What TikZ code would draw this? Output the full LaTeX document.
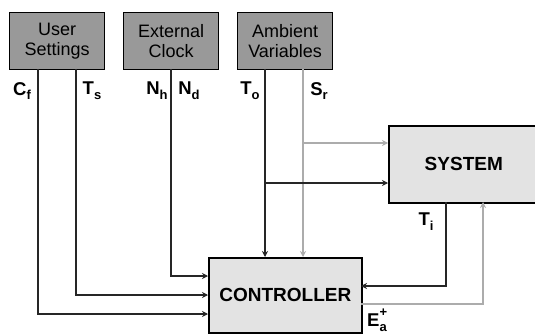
\documentclass[tikz,border=0pt]{standalone}
\usepackage{fontspec}
\setmainfont{Liberation Sans}
\usetikzlibrary{arrows.meta}
\newcommand{\sig}[2]{\textbf{#1\raisebox{-0.5ex}{\fontsize{13}{13}\selectfont #2}}}
\newcommand{\sigE}{\textbf{E\rlap{\raisebox{1.0ex}{\fontsize{13}{13}\selectfont +}}\raisebox{-0.5ex}{\fontsize{13}{13}\selectfont a}}}
\begin{document}
\begin{tikzpicture}[x=1pt,y=-1pt,
  src/.style={draw=black, line width=1.2pt, fill=gray!80, minimum width=95pt, minimum height=57pt,
    inner sep=0pt, align=center, font=\fontsize{18}{19.5}\selectfont, anchor=north west},
  blk/.style={draw=black, line width=1.6pt, fill=gray!22, inner sep=0pt, anchor=north west,
    font=\bfseries\fontsize{19}{22}\selectfont},
  bl/.style={line width=1.3pt, draw=black!85, -{Stealth[length=6pt,width=6pt]}},
  gl/.style={line width=1.3pt, draw=gray!65, -{Stealth[length=6pt,width=6pt]}},
  lab/.style={font=\fontsize{18.5}{18.5}\selectfont, inner sep=0pt}
]
\useasboundingbox (0,0) rectangle (535,334);
\fill[white] (0,0) rectangle (535,334);

% source boxes
\node[src] (us) at (9,12) {User\\Settings};
\node[src] (ec) at (123,12) {External\\Clock};
\node[src] (av) at (237,12) {Ambient\\Variables};

% main blocks
\node[blk, minimum width=153pt, minimum height=75pt] (ctrl) at (208,257) {CONTROLLER};
\node[blk, minimum width=150pt, minimum height=77pt] (sys) at (388,125) {SYSTEM};

% named coordinates
\coordinate (cft) at (38,69);   \coordinate (cfe) at (208,314);
\coordinate (tst) at (76,69);   \coordinate (tse) at (208,295);
\coordinate (nt)  at (171,69);  \coordinate (ne)  at (208,276);
\coordinate (tot) at (265,69);  \coordinate (toe) at (265,257);
\coordinate (tob) at (265,183); \coordinate (tos) at (388,183);
\coordinate (srt) at (303,69);  \coordinate (sre) at (303,257);
\coordinate (srb) at (303,143); \coordinate (srs) at (388,143);
\coordinate (tit) at (446,202); \coordinate (tic) at (446,286); \coordinate (tie) at (361,286);
\coordinate (eat) at (361,304); \coordinate (eac) at (483,304); \coordinate (eae) at (483,202);

% connectors
\draw[bl] (cft) |- (cfe);
\draw[bl] (tst) |- (tse);
\draw[bl] (nt) |- (ne);
\draw[gl] (srt) -- (sre);
\draw[gl] (srb) -- (srs);
\draw[bl] (tot) -- (toe);
\draw[bl] (tob) -- (tos);
\draw[bl] (tit) -- (tic) -- (tie);
\draw[gl] (eat) -- (eac) -- (eae);

% labels
\node[lab] (lcf) at (22,91) {\sig{C}{f}};
\node[lab] (lts) at (92,91) {\sig{T}{s}};
\node[lab] (lnh) at (157,91) {\sig{N}{h}};
\node[lab] (lnd) at (189,91) {\sig{N}{d}};
\node[lab] (lto) at (250,91) {\sig{T}{o}};
\node[lab] (lsr) at (319,91) {\sig{S}{r}};
\node[lab] (lti) at (426,222) {\sig{T}{i}};
\node[lab] (lea) at (377,320) {\sigE};
\end{tikzpicture}
\end{document}
